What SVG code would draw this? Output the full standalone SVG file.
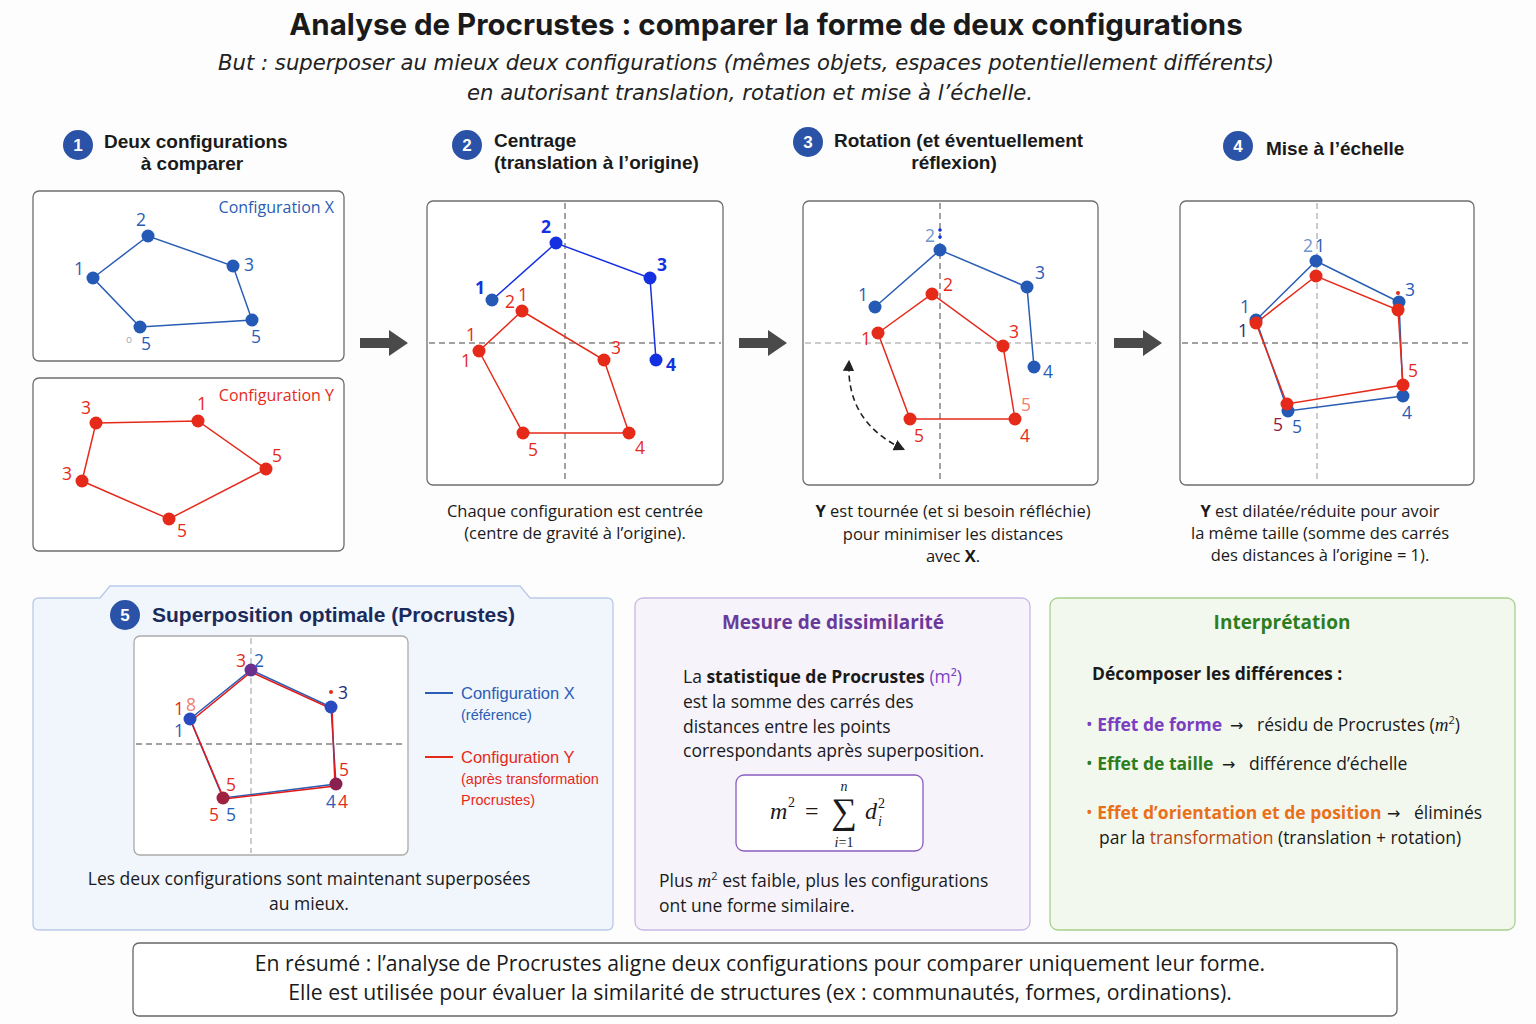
<svg xmlns="http://www.w3.org/2000/svg" width="1536" height="1024" viewBox="0 0 1536 1024">
<defs>
<style>
.t{font-family:Inter,"Liberation Sans",sans-serif;}
.b{font-family:"Open Sans","Liberation Sans",sans-serif;}
.h{font-family:"Liberation Sans",Arial,sans-serif;font-weight:bold;font-size:19px;fill:#1a1a1a;}
.num{font-family:"Liberation Sans",Arial,sans-serif;font-weight:bold;font-size:17px;fill:#fff;}
.badge{fill:#2a52a6;}
.box{fill:#fff;stroke:#6d6d6d;stroke-width:1.3;}
.axis{stroke:#444;stroke-width:1;stroke-dasharray:6 4;fill:none;}
.axisl{stroke:#999;stroke-width:1;stroke-dasharray:6 4;fill:none;}
.bl{stroke:#2a5db5;stroke-width:1.5;fill:none;}
.bb{stroke:#1530e0;stroke-width:1.5;fill:none;}
.rl{stroke:#e62a1a;stroke-width:1.5;fill:none;}
.bd{fill:#2459b5;}
.bbd{fill:#1530e0;}
.rd{fill:#e62a1a;}
.lb{font-family:"Open Sans","Liberation Sans",sans-serif;font-size:17.5px;fill:#2a5db5;}
.lbb{font-family:"Open Sans","Liberation Sans",sans-serif;font-size:17.5px;font-weight:bold;fill:#1530e0;}
.lr{font-family:"Open Sans","Liberation Sans",sans-serif;font-size:17.5px;fill:#e62a1a;}
.cap{font-family:"Open Sans","Liberation Sans",sans-serif;font-size:16.5px;fill:#1a1a1a;}
.arr{fill:#4a4a4a;}
.leg{font-family:"Liberation Sans",Arial,sans-serif;}
.sub{font-family:"DejaVu Sans",Verdana,sans-serif;font-size:21.2px;font-style:italic;fill:#222;}
</style>
<marker id="ah" viewBox="0 0 10 10" refX="8" refY="5" markerWidth="7" markerHeight="7" orient="auto-start-reverse"><path d="M0,0 L10,5 L0,10 z" fill="#222"/></marker>
</defs>
<rect width="1536" height="1024" fill="#fdfdfd"/>

<g id="title">
<text class="t" x="766" y="35" text-anchor="middle" font-size="29.5" font-weight="bold" fill="#1a1a1a">Analyse de Procrustes : comparer la forme de deux configurations</text>
<text class="sub" x="746" y="70" text-anchor="middle">But : superposer au mieux deux configurations (mêmes objets, espaces potentiellement différents)</text>
<text class="sub" x="750" y="100" text-anchor="middle">en autorisant translation, rotation et mise à l’échelle.</text>
</g>

<g id="step1">
<circle class="badge" cx="78" cy="145" r="15"/><text class="num" x="78" y="151" text-anchor="middle">1</text>
<text class="h" x="104" y="148">Deux configurations</text>
<text class="h" x="192" y="170" text-anchor="middle">à comparer</text>
<rect class="box" x="33" y="191" width="311" height="170" rx="6"/>
<text class="b" x="334" y="213" text-anchor="end" font-size="16" fill="#2a5db5">Configuration X</text>
<polygon class="bl" points="93,278 148,236 233,266 252,320 140,327"/>
<circle class="bd" cx="93" cy="278" r="6.5"/><circle class="bd" cx="148" cy="236" r="6.5"/><circle class="bd" cx="233" cy="266" r="6.5"/><circle class="bd" cx="252" cy="320" r="6.5"/><circle class="bd" cx="140" cy="327" r="6.5"/>
<text class="lb" x="79" y="275" text-anchor="middle">1</text>
<text class="lb" x="141" y="226" text-anchor="middle">2</text>
<text class="lb" x="249" y="271" text-anchor="middle">3</text>
<text class="lb" x="256" y="343" text-anchor="middle">5</text>
<text class="lb" x="146" y="350" text-anchor="middle">5</text>
<text x="129" y="343" text-anchor="middle" font-family="Open Sans, sans-serif" font-size="10" fill="#9ab">o</text>

<rect class="box" x="33" y="378" width="311" height="173" rx="6"/>
<text class="b" x="334" y="401" text-anchor="end" font-size="16" fill="#e62a1a">Configuration Y</text>
<polygon class="rl" points="96,423 198,421 266,469 169,519 82,481"/>
<circle class="rd" cx="96" cy="423" r="6.5"/><circle class="rd" cx="198" cy="421" r="6.5"/><circle class="rd" cx="266" cy="469" r="6.5"/><circle class="rd" cx="169" cy="519" r="6.5"/><circle class="rd" cx="82" cy="481" r="6.5"/>
<text class="lr" x="86" y="414" text-anchor="middle">3</text>
<text class="lr" x="202" y="410" text-anchor="middle">1</text>
<text class="lr" x="277" y="462" text-anchor="middle">5</text>
<text class="lr" x="182" y="537" text-anchor="middle">5</text>
<text class="lr" x="67" y="480" text-anchor="middle">3</text>
</g>

<g id="connectors">
<path class="arr" d="M360,338 H389 V330 L408,343 L389,356 V348 H360 Z"/>
<path class="arr" d="M739,338 H768 V330 L787,343 L768,356 V348 H739 Z"/>
<path class="arr" d="M1114,338 H1143 V330 L1162,343 L1143,356 V348 H1114 Z"/>
</g>

<g id="step2">
<circle class="badge" cx="467" cy="145" r="15"/><text class="num" x="467" y="151" text-anchor="middle">2</text>
<text class="h" x="494" y="147">Centrage</text>
<text class="h" x="494" y="169">(translation à l’origine)</text>
<rect class="box" x="427" y="201" width="296" height="284" rx="6"/>
<line class="axis" x1="565" y1="203" x2="565" y2="483"/>
<line class="axis" x1="429" y1="343" x2="721" y2="343"/>
<polyline class="bb" points="492,300 556,243 650,278 656,360"/>
<circle class="bd" cx="492" cy="300" r="6.5"/><circle class="bbd" cx="556" cy="243" r="6.5"/><circle class="bbd" cx="650" cy="278" r="6.5"/><circle class="bbd" cx="656" cy="360" r="6.5"/>
<text class="lbb" x="480" y="294" text-anchor="middle">1</text>
<text class="lbb" x="546" y="233" text-anchor="middle">2</text>
<text class="lbb" x="662" y="271" text-anchor="middle">3</text>
<text class="lbb" x="671" y="371" text-anchor="middle">4</text>
<polygon class="rl" points="522,311 604,360 629,433 523,433 479,351"/>
<circle class="rd" cx="522" cy="311" r="6.5"/><circle class="rd" cx="479" cy="351" r="6.5"/><circle class="rd" cx="523" cy="433" r="6.5"/><circle class="rd" cx="629" cy="433" r="6.5"/><circle class="rd" cx="604" cy="360" r="6.5"/>
<text class="lr" x="510" y="308" text-anchor="middle">2</text>
<text class="lr" x="523" y="301" text-anchor="middle">1</text>
<text class="lr" x="471" y="341" text-anchor="middle">1</text>
<text class="lr" x="466" y="367" text-anchor="middle">1</text>
<text class="lr" x="616" y="354" text-anchor="middle">3</text>
<text class="lr" x="533" y="456" text-anchor="middle">5</text>
<text class="lr" x="640" y="454" text-anchor="middle">4</text>
<text class="cap" x="575" y="517" text-anchor="middle">Chaque configuration est centrée</text>
<text class="cap" x="575" y="539" text-anchor="middle">(centre de gravité à l’origine).</text>
</g>

<g id="step3">
<circle class="badge" cx="808" cy="142" r="15"/><text class="num" x="808" y="148" text-anchor="middle">3</text>
<text class="h" x="834" y="147">Rotation (et éventuellement</text>
<text class="h" x="954" y="169" text-anchor="middle">réflexion)</text>
<rect class="box" x="803" y="201" width="295" height="284" rx="6"/>
<line class="axis" x1="940" y1="203" x2="940" y2="483"/>
<line class="axisl" x1="805" y1="343" x2="1096" y2="343"/>
<polyline class="bl" points="875,307 940,250 1027,287 1034,367"/>
<circle class="bd" cx="875" cy="307" r="6.5"/><circle class="bd" cx="940" cy="250" r="6.5"/><circle class="bd" cx="1027" cy="287" r="6.5"/><circle class="bd" cx="1034" cy="367" r="6.5"/>
<circle class="bbd" cx="940" cy="230" r="1.8"/><circle class="bbd" cx="940" cy="237" r="1.8"/>
<text class="lb" x="863" y="301" text-anchor="middle">1</text>
<text class="lb" x="930" y="242" text-anchor="middle" style="fill:#6f95cc">2</text>
<text class="lb" x="1040" y="279" text-anchor="middle">3</text>
<text class="lb" x="1048" y="378" text-anchor="middle">4</text>
<polygon class="rl" points="878,333 932,294 1003,346 1015,419 910,419"/>
<circle class="rd" cx="878" cy="333" r="6.5"/><circle class="rd" cx="932" cy="294" r="6.5"/><circle class="rd" cx="1003" cy="346" r="6.5"/><circle class="rd" cx="1015" cy="419" r="6.5"/><circle class="rd" cx="910" cy="419" r="6.5"/>
<text class="lr" x="866" y="345" text-anchor="middle">1</text>
<text class="lr" x="948" y="291" text-anchor="middle">2</text>
<text class="lr" x="1014" y="338" text-anchor="middle">3</text>
<text class="lr" x="1026" y="411" text-anchor="middle" style="fill:#f08070">5</text>
<text class="lr" x="1025" y="442" text-anchor="middle">4</text>
<text class="lr" x="919" y="442" text-anchor="middle">5</text>
<path d="M903,449 Q846,422 849,362" fill="none" stroke="#222" stroke-width="1.6" stroke-dasharray="6 4" marker-start="url(#ah)" marker-end="url(#ah)"/>
<text class="cap" x="953" y="517" text-anchor="middle"><tspan font-weight="bold">Y</tspan> est tournée (et si besoin réfléchie)</text>
<text class="cap" x="953" y="540" text-anchor="middle">pour minimiser les distances</text>
<text class="cap" x="953" y="562" text-anchor="middle">avec <tspan font-weight="bold">X</tspan>.</text>
</g>

<g id="step4">
<circle class="badge" cx="1238" cy="146" r="15"/><text class="num" x="1238" y="152" text-anchor="middle">4</text>
<text class="h" x="1266" y="155">Mise à l’échelle</text>
<rect class="box" x="1180" y="201" width="294" height="284" rx="6"/>
<line class="axisl" x1="1317" y1="203" x2="1317" y2="483"/>
<line class="axis" x1="1182" y1="343" x2="1472" y2="343"/>
<polygon class="bl" points="1256,320 1316,261 1399,302 1403,396 1288,411"/>
<circle class="bd" cx="1316" cy="261" r="6.5"/><circle class="bd" cx="1399" cy="302" r="6.5"/><circle class="bd" cx="1403" cy="396" r="6.5"/><circle class="bd" cx="1288" cy="411" r="6.5"/><circle class="bd" cx="1256" cy="320" r="6.5"/>
<polygon class="rl" points="1256,323 1316,276 1398,310 1403,385 1287,404"/>
<circle class="rd" cx="1256" cy="323" r="6.5"/><circle class="rd" cx="1316" cy="276" r="6.5"/><circle class="rd" cx="1398" cy="310" r="6.5"/><circle class="rd" cx="1403" cy="385" r="6.5"/><circle class="rd" cx="1287" cy="404" r="6.5"/>
<circle class="rd" cx="1398" cy="293" r="2"/>
<text class="lb" x="1308" y="252" text-anchor="middle" style="fill:#6f95cc">2</text>
<text class="lb" x="1320" y="252" text-anchor="middle">1</text>
<text class="lb" x="1410" y="296" text-anchor="middle">3</text>
<text class="lb" x="1245" y="313" text-anchor="middle">1</text>
<text class="lb" x="1243" y="337" text-anchor="middle" style="fill:#2a2a7a">1</text>
<text class="lr" x="1413" y="377" text-anchor="middle">5</text>
<text class="lb" x="1407" y="419" text-anchor="middle">4</text>
<text class="lr" x="1278" y="431" text-anchor="middle" style="fill:#8a2040">5</text>
<text class="lb" x="1297" y="433" text-anchor="middle">5</text>
<text class="cap" x="1320" y="517" text-anchor="middle"><tspan font-weight="bold">Y</tspan> est dilatée/réduite pour avoir</text>
<text class="cap" x="1320" y="539" text-anchor="middle">la même taille (somme des carrés</text>
<text class="cap" x="1320" y="561" text-anchor="middle">des distances à l’origine = 1).</text>
</g>

<g id="step5">
<path d="M39,598 H100 L110,586 H520 L530,598 H607 Q613,598 613,604 V924 Q613,930 607,930 H39 Q33,930 33,924 V604 Q33,598 39,598 Z" fill="#f1f5fc" stroke="#b9cae8" stroke-width="1.3"/>
<circle class="badge" cx="125" cy="615" r="15"/><text class="num" x="125" y="621" text-anchor="middle">5</text>
<text x="152" y="622" font-family="Liberation Sans, Arial, sans-serif" font-weight="bold" font-size="21" fill="#1a2a5a">Superposition optimale (Procrustes)</text>
<rect class="box" x="134" y="636" width="274" height="219" rx="6" style="stroke:#aaa"/>
<line class="axisl" x1="251" y1="638" x2="251" y2="853"/>
<line class="axis" x1="136" y1="744" x2="406" y2="744"/>
<polygon class="bl" points="190,719 251,670 331,707 336,784 223,798"/>
<polygon class="rl" points="191,721 251,672 332,709 335,786 224,799" style="stroke:#e01a1a"/>
<circle cx="190" cy="719" r="6.5" fill="#2a4ac0"/><circle cx="251" cy="670" r="6.5" fill="#6a3090"/><circle cx="331" cy="707" r="6.5" fill="#2a4ac0"/><circle cx="336" cy="784" r="6.5" fill="#8a2050"/><circle cx="223" cy="798" r="6.5" fill="#a02040"/>
<circle class="rd" cx="331" cy="692" r="2"/>
<text class="lr" x="241" y="667" text-anchor="middle">3</text>
<text class="lb" x="259" y="667" text-anchor="middle" font-size="15">2</text>
<text class="lr" x="179" y="715" text-anchor="middle">1</text>
<text class="lr" x="191" y="711" text-anchor="middle" font-size="14" style="fill:#f08070">8</text>
<text class="lb" x="179" y="737" text-anchor="middle">1</text>
<text class="lb" x="343" y="699" text-anchor="middle" style="fill:#2a2a7a">3</text>
<text class="lr" x="344" y="776" text-anchor="middle">5</text>
<text class="lb" x="331" y="808" text-anchor="middle">4</text>
<text class="lr" x="343" y="808" text-anchor="middle">4</text>
<text class="lr" x="231" y="791" text-anchor="middle">5</text>
<text class="lr" x="214" y="821" text-anchor="middle">5</text>
<text class="lb" x="231" y="821" text-anchor="middle">5</text>
<line x1="425" y1="693" x2="453" y2="693" stroke="#2a5db5" stroke-width="2"/>
<text class="leg" x="461" y="699" font-size="16.5" fill="#2a5db5">Configuration X</text>
<text class="leg" x="461" y="720" font-size="14.5" fill="#2a5db5">(référence)</text>
<line x1="425" y1="757" x2="453" y2="757" stroke="#e62a1a" stroke-width="2"/>
<text class="leg" x="461" y="763" font-size="16.5" fill="#e62a1a">Configuration Y</text>
<text class="leg" x="461" y="784" font-size="14.5" fill="#e62a1a">(après transformation</text>
<text class="leg" x="461" y="805" font-size="14.5" fill="#e62a1a">Procrustes)</text>
<text class="b" x="309" y="885" text-anchor="middle" font-size="17.5" fill="#1a1a1a">Les deux configurations sont maintenant superposées</text>
<text class="b" x="309" y="910" text-anchor="middle" font-size="17.5" fill="#1a1a1a">au mieux.</text>
</g>

<g id="mesure">
<rect x="635" y="598" width="395" height="332" rx="8" fill="#f6f3fb" stroke="#c9b8e3" stroke-width="1.3"/>
<text class="b" x="833" y="629" text-anchor="middle" font-size="19" font-weight="bold" fill="#6a3a9a">Mesure de dissimilarité</text>
<g class="b" font-size="17.5" fill="#1a1a1a">
<text x="683" y="683">La <tspan font-weight="bold">statistique de Procrustes</tspan> <tspan fill="#7a3fc0">(m²)</tspan></text>
<text x="683" y="708">est la somme des carrés des</text>
<text x="683" y="733">distances entre les points</text>
<text x="683" y="757">correspondants après superposition.</text>
<text x="659" y="887">Plus <tspan font-family="Liberation Serif, serif" font-style="italic" font-size="19">m</tspan><tspan font-size="11" dy="-7">2</tspan><tspan dy="7"> est faible, plus les configurations</tspan></text>
<text x="659" y="912">ont une forme similaire.</text>
</g>
<rect x="736" y="775" width="187" height="76" rx="8" fill="#fff" stroke="#8a5cc0" stroke-width="1.3"/>
<g font-family="Liberation Serif, serif" fill="#1a1a1a">
<text x="770" y="819" font-size="24" font-style="italic">m</text>
<text x="788" y="807" font-size="14">2</text>
<text x="805" y="819" font-size="24">=</text>
<text x="844" y="823" font-size="36" text-anchor="middle">∑</text>
<text x="844" y="791" font-size="14" font-style="italic" text-anchor="middle">n</text>
<text x="844" y="847" font-size="14" text-anchor="middle"><tspan font-style="italic">i</tspan>=1</text>
<text x="865" y="819" font-size="24" font-style="italic">d</text>
<text x="878" y="808" font-size="14">2</text>
<text x="878" y="826" font-size="14" font-style="italic">i</text>
</g>
</g>

<g id="interpretation">
<rect x="1050" y="598" width="465" height="332" rx="8" fill="#f3f8ef" stroke="#a8d08a" stroke-width="1.3"/>
<text class="b" x="1282" y="629" text-anchor="middle" font-size="19" font-weight="bold" fill="#2e7d1e">Interprétation</text>
<text class="b" x="1092" y="680" font-size="17.5" font-weight="bold" fill="#1a1a1a">Décomposer les différences :</text>
<g class="b" font-size="17.5">
<text x="1086" y="731"><tspan fill="#7a3fc0">• </tspan><tspan fill="#7a3fc0" font-weight="bold">Effet de forme</tspan><tspan fill="#1a1a1a" x="1230" font-family="DejaVu Sans, sans-serif" font-size="16">→</tspan><tspan fill="#1a1a1a" x="1257">résidu de Procrustes (</tspan><tspan fill="#1a1a1a" font-family="Liberation Serif, serif" font-style="italic" font-size="19">m</tspan><tspan fill="#1a1a1a" font-size="11" dy="-7">2</tspan><tspan fill="#1a1a1a" dy="7">)</tspan></text>
<text x="1086" y="770"><tspan fill="#2e7d1e">• </tspan><tspan fill="#2e7d1e" font-weight="bold">Effet de taille</tspan><tspan fill="#1a1a1a" x="1222" font-family="DejaVu Sans, sans-serif" font-size="16">→</tspan><tspan fill="#1a1a1a" x="1249">différence d’échelle</tspan></text>
<text x="1086" y="819"><tspan fill="#e8701a">• </tspan><tspan fill="#e8701a" font-weight="bold">Effet d’orientation et de position</tspan><tspan fill="#1a1a1a" x="1387" font-family="DejaVu Sans, sans-serif" font-size="16">→</tspan><tspan fill="#1a1a1a" x="1414">éliminés</tspan></text>
<text x="1099" y="844" fill="#1a1a1a">par la <tspan fill="#b8460e">transformation</tspan> (translation + rotation)</text>
</g>
</g>

<g id="summary">
<rect x="133" y="943" width="1264" height="73" rx="6" fill="#fff" stroke="#666" stroke-width="1.3"/>
<text class="b" x="760" y="971" text-anchor="middle" font-size="21.2" fill="#1a1a1a">En résumé : l’analyse de Procrustes aligne deux configurations pour comparer uniquement leur forme.</text>
<text class="b" x="760" y="1000" text-anchor="middle" font-size="21.2" fill="#1a1a1a">Elle est utilisée pour évaluer la similarité de structures (ex : communautés, formes, ordinations).</text>
</g>
</svg>
